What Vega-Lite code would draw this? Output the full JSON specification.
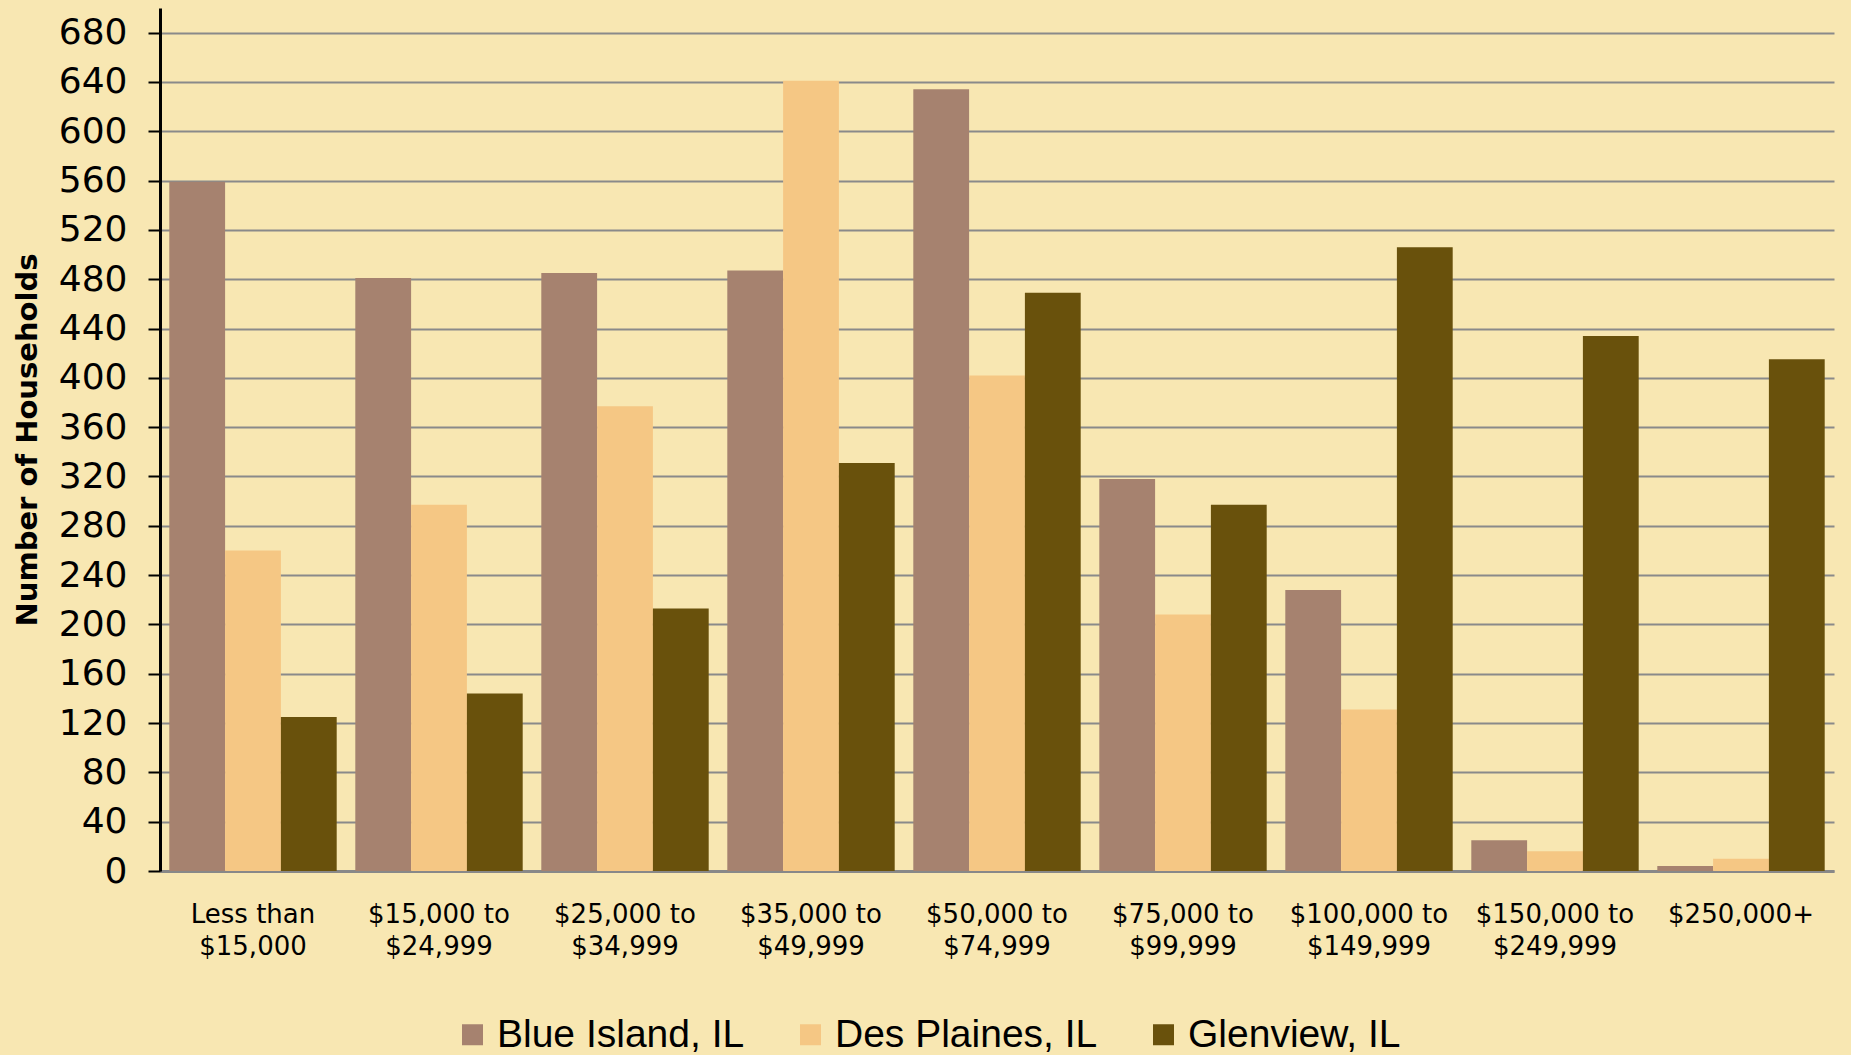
{
  "$schema": "https://vega.github.io/schema/vega-lite/v6.json",
  "autosize": "none",
  "width": 1674,
  "height": 863,
  "padding": {"left": 160, "top": 8, "right": 17, "bottom": 184},
  "background": "#f8e7b2",
  "config": {
    "view": {"stroke": null},
    "font": "DejaVu Sans"
  },
  "data": {
    "values": [
      {"income": "Less than $15,000", "city": "Blue Island, IL", "households": 559},
      {"income": "Less than $15,000", "city": "Des Plaines, IL", "households": 260},
      {"income": "Less than $15,000", "city": "Glenview, IL", "households": 125},
      {"income": "$15,000 to $24,999", "city": "Blue Island, IL", "households": 481},
      {"income": "$15,000 to $24,999", "city": "Des Plaines, IL", "households": 297},
      {"income": "$15,000 to $24,999", "city": "Glenview, IL", "households": 144},
      {"income": "$25,000 to $34,999", "city": "Blue Island, IL", "households": 485},
      {"income": "$25,000 to $34,999", "city": "Des Plaines, IL", "households": 377},
      {"income": "$25,000 to $34,999", "city": "Glenview, IL", "households": 213},
      {"income": "$35,000 to $49,999", "city": "Blue Island, IL", "households": 487},
      {"income": "$35,000 to $49,999", "city": "Des Plaines, IL", "households": 641},
      {"income": "$35,000 to $49,999", "city": "Glenview, IL", "households": 331},
      {"income": "$50,000 to $74,999", "city": "Blue Island, IL", "households": 634},
      {"income": "$50,000 to $74,999", "city": "Des Plaines, IL", "households": 402},
      {"income": "$50,000 to $74,999", "city": "Glenview, IL", "households": 469},
      {"income": "$75,000 to $99,999", "city": "Blue Island, IL", "households": 318},
      {"income": "$75,000 to $99,999", "city": "Des Plaines, IL", "households": 208},
      {"income": "$75,000 to $99,999", "city": "Glenview, IL", "households": 297},
      {"income": "$100,000 to $149,999", "city": "Blue Island, IL", "households": 228},
      {"income": "$100,000 to $149,999", "city": "Des Plaines, IL", "households": 131},
      {"income": "$100,000 to $149,999", "city": "Glenview, IL", "households": 506},
      {"income": "$150,000 to $249,999", "city": "Blue Island, IL", "households": 25},
      {"income": "$150,000 to $249,999", "city": "Des Plaines, IL", "households": 16},
      {"income": "$150,000 to $249,999", "city": "Glenview, IL", "households": 434},
      {"income": "$250,000+", "city": "Blue Island, IL", "households": 4},
      {"income": "$250,000+", "city": "Des Plaines, IL", "households": 10},
      {"income": "$250,000+", "city": "Glenview, IL", "households": 415}
    ]
  },
  "mark": {"type": "bar"},
  "encoding": {
    "x": {
      "field": "income",
      "type": "nominal",
      "sort": null,
      "scale": {"paddingInner": 0.1, "paddingOuter": 0.05},
      "axis": {
        "title": null,
        "labelAngle": 0,
        "ticks": false,
        "domainColor": "#888888",
        "domainWidth": 3,
        "labelFont": "DejaVu Sans",
        "labelFontSize": 26,
        "labelColor": "#000000",
        "labelPadding": 30,
        "labelBaseline": "top",
        "labelLineHeight": 32,
        "labelLimit": 300,
        "labelExpr": "indexof(datum.label, ' to ') > 0 ? [substring(datum.label, 0, indexof(datum.label, ' to ') + 3), substring(datum.label, indexof(datum.label, ' to ') + 4)] : (indexof(datum.label, 'than ') > 0 ? ['Less than', '$15,000'] : datum.label)"
      }
    },
    "xOffset": {"field": "city", "type": "nominal", "sort": null},
    "y": {
      "field": "households",
      "type": "quantitative",
      "scale": {"domain": [0, 700], "nice": false},
      "axis": {
        "title": "Number of Households",
        "values": [0, 40, 80, 120, 160, 200, 240, 280, 320, 360, 400, 440, 480, 520, 560, 600, 640, 680],
        "grid": true,
        "gridColor": "#8a8a8a",
        "gridWidth": 2,
        "domainColor": "#000000",
        "domainWidth": 3,
        "tickColor": "#000000",
        "tickWidth": 2,
        "tickSize": 12,
        "labelFont": "DejaVu Sans",
        "labelFontSize": 36,
        "labelColor": "#000000",
        "labelPadding": 21,
        "titleFont": "DejaVu Sans",
        "titleFontSize": 29,
        "titleFontWeight": 600,
        "titleColor": "#000000",
        "titlePadding": 16
      }
    },
    "color": {
      "field": "city",
      "type": "nominal",
      "sort": null,
      "scale": {
        "domain": ["Blue Island, IL", "Des Plaines, IL", "Glenview, IL"],
        "range": ["#a6826f", "#f5c784", "#69510c"]
      },
      "legend": {
        "title": null,
        "orient": "none",
        "direction": "horizontal",
        "legendX": 293,
        "legendY": 1007,
        "symbolType": "square",
        "symbolSize": 441,
        "symbolStrokeWidth": 0,
        "symbolOpacity": 1,
        "labelFont": "Liberation Sans",
        "labelFontSize": 39,
        "labelColor": "#000000",
        "labelOffset": 5,
        "labelLimit": 400,
        "columnPadding": 46
      }
    }
  }
}
